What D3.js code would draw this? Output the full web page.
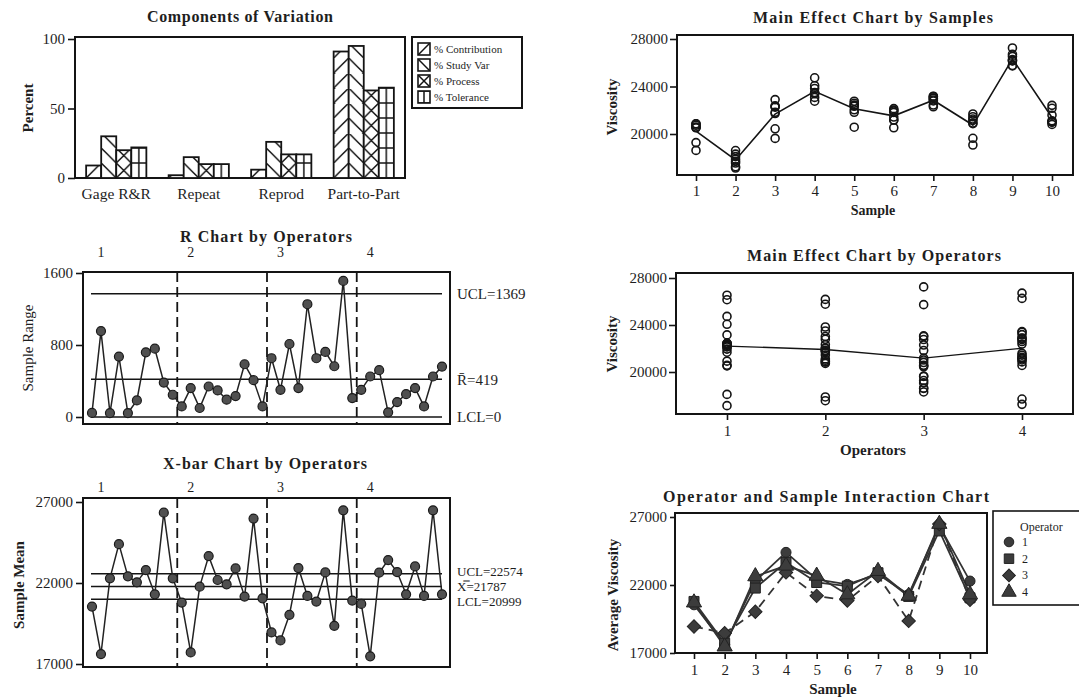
<!DOCTYPE html>
<html><head><meta charset="utf-8">
<script src="https://cdn.jsdelivr.net/npm/d3@7"></script>
<style>
body{margin:0;background:#fff;}
svg{display:block;}
text{font-family:"Liberation Serif","Times New Roman",serif;fill:#1e1e1e;}
</style>
</head><body>
<svg id="c" width="1079" height="697"></svg>
<script>
// ---------------- DATA ----------------
const components = ["Gage R&R", "Repeat", "Reprod", "Part-to-Part"];
const measures = ["% Contribution", "% Study Var", "% Process", "% Tolerance"];
const pctContribution = [9, 2, 6, 91];
const pctStudyVar = [30, 15, 26, 95];
const pctProcess = [20, 10, 17, 63];
const pctTolerance = [22, 10, 17, 65];
const percentTicks = [0, 50, 100];

const operators = [1, 2, 3, 4];
const samples = [1, 2, 3, 4, 5, 6, 7, 8, 9, 10];

// two trials per operator and sample (samples 1..10)
const trialsOp1 = [[20523,20568],[17138,18093],[22265,22309],[24062,24733],[22388,22432],[21949,22133],[22440,23159],[20924,21683],[26152,26535],[22164,22411]];
const trialsOp2 = [[20732,20850],[17557,17878],[21724,21824],[23490,23829],[22037,22332],[21822,22014],[22785,23017],[20867,21453],[25771,26180],[20998,21116]];
const trialsOp3 = [[18621,19274],[18304,18606],[19628,20439],[22762,23083],[20574,21827],[20526,21179],[22294,23017],[19074,19638],[25731,27243],[20809,21019]];
const trialsOp4 = [[20558,20860],[17246,17696],[22375,22895],[23387,23439],[22593,22759],[21176,21430],[22864,23185],[21141,21259],[26262,26712],[21023,21583]];

const rLimits = [1369, 419, 0];
const rLimitLabels = ["UCL=1369", "R\u0304=419", "LCL=0"];
const xbarLimits = [22574, 21787, 20999];
const xbarLimitLabels = ["UCL=22574", "X\u033F=21787", "LCL=20999"];
const rTicks = [0, 800, 1600];
const xbarTicks = [17000, 22000, 27000];
const viscTicks = [20000, 24000, 28000];
const interTicks = [17000, 22000, 27000];

// ---------------- SETUP ----------------
const SERIF = '"Liberation Serif","Times New Roman",serif';
const SANS = '"Liberation Sans",Arial,sans-serif';
const INK = "#141414";
const svg = d3.select("#c");
const defs = svg.append("defs");

function title(x0, x1, y, txt) {
  svg.append("text").attr("x", (x0 + x1) / 2).attr("y", y).attr("text-anchor", "middle")
    .attr("font-size", 16).attr("font-weight", "bold")
    .attr("textLength", x1 - x0).attr("lengthAdjust", "spacing").text(txt);
}
function frame(x0, y0, x1, y1) {
  svg.append("rect").attr("x", x0).attr("y", y0).attr("width", x1 - x0).attr("height", y1 - y0)
    .attr("fill", "none").attr("stroke", INK).attr("stroke-width", 2);
}
function yAxis(scale, x, ticks, size, pad) {
  const g = svg.append("g").attr("transform", `translate(${x},0)`)
    .call(d3.axisLeft(scale).tickValues(ticks).tickSize(size).tickPadding(pad).tickFormat(d3.format("d")));
  g.select(".domain").remove();
  g.attr("font-family", SERIF).attr("font-size", 15);
  g.selectAll("line").attr("stroke", INK).attr("stroke-width", 1.6);
  g.selectAll("text").attr("fill", "#1e1e1e");
  return g;
}
function xAxis(scale, y, size, pad) {
  const g = svg.append("g").attr("transform", `translate(0,${y})`)
    .call(d3.axisBottom(scale).tickSize(size).tickPadding(pad));
  g.select(".domain").remove();
  g.attr("font-family", SERIF).attr("font-size", 15);
  g.selectAll("line").attr("stroke", INK).attr("stroke-width", 1.6);
  g.selectAll("text").attr("fill", "#1e1e1e");
  return g;
}
function yTitle(x, y, txt, bold, size) {
  svg.append("text").attr("transform", `translate(${x},${y}) rotate(-90)`).attr("text-anchor", "middle")
    .attr("font-size", size || 15).attr("font-weight", bold ? "bold" : "normal").text(txt);
}
function xTitle(x, y, txt, size) {
  svg.append("text").attr("x", x).attr("y", y).attr("text-anchor", "middle")
    .attr("font-size", size || 15).attr("font-weight", "bold").text(txt);
}
function hatch(id, type, x0, y0, w, s) {
  const p = defs.append("pattern").attr("id", id).attr("patternUnits", "userSpaceOnUse")
    .attr("x", x0).attr("y", y0).attr("width", w).attr("height", s);
  p.append("rect").attr("width", w).attr("height", s).attr("fill", "#fff");
  const ln = (a, b, c, d) => p.append("line").attr("x1", a).attr("y1", b).attr("x2", c).attr("y2", d)
    .attr("stroke", INK).attr("stroke-width", 1.5);
  if (type === "fwd" || type === "cross") ln(0, s, w, 0);
  if (type === "back" || type === "cross") ln(0, 0, w, s);
  if (type === "grid") { ln(w / 2, 0, w / 2, s); ln(0, 0, w, 0); ln(0, s, w, s); }
}

// derived subgroups
const allTrials = [trialsOp1, trialsOp2, trialsOp3, trialsOp4];
const subgroups = [];
allTrials.forEach((arr, oi) => arr.forEach((t, si) => subgroups.push({
  op: operators[oi], sample: samples[si], idx: oi * 10 + si + 1,
  mean: d3.mean(t), range: d3.max(t) - d3.min(t), trials: t
})));

// ---------------- A: Components of Variation ----------------
title(147, 333, 22, "Components of Variation");
const xA = d3.scaleBand().domain(components).range([75, 405]).paddingInner(0.27).paddingOuter(0.135);
const xAi = d3.scaleBand().domain(measures).range([0, xA.bandwidth()]);
const yA = d3.scaleLinear().domain([0, 100]).range([178, 39]);
const compSeries = [pctContribution, pctStudyVar, pctProcess, pctTolerance];
const hatchTypes = ["fwd", "back", "cross", "grid"];
frame(75, 37, 405, 178);
yAxis(yA, 75, percentTicks, 7, 3);
yTitle(33, 108, "Percent", true, 15);
components.forEach((c, ci) => {
  measures.forEach((m, mi) => {
    const v = compSeries[mi][ci];
    const x = xA(c) + xAi(m), w = xAi.bandwidth();
    const id = `pA${ci}_${mi}`;
    hatch(id, hatchTypes[mi], x, yA(0), w, 15);
    svg.append("rect").attr("x", x).attr("y", yA(v)).attr("width", w).attr("height", yA(0) - yA(v))
      .attr("fill", `url(#${id})`).attr("stroke", INK).attr("stroke-width", 1.8);
  });
  svg.append("text").attr("x", xA(c) + xA.bandwidth() / 2).attr("y", 199).attr("text-anchor", "middle")
    .attr("font-size", 15.5).text(c);
});
// legend
svg.append("rect").attr("x", 412).attr("y", 37).attr("width", 110).attr("height", 71)
  .attr("fill", "#fff").attr("stroke", INK).attr("stroke-width", 2);
measures.forEach((m, mi) => {
  const cy = 49 + mi * 16;
  const id = `pL${mi}`;
  hatch(id, hatchTypes[mi], 418, cy - 6, 12, 12);
  svg.append("rect").attr("x", 418).attr("y", cy - 6).attr("width", 12).attr("height", 12)
    .attr("fill", `url(#${id})`).attr("stroke", INK).attr("stroke-width", 1.6);
  svg.append("text").attr("x", 434).attr("y", cy + 4).attr("font-size", 11).text(m);
});

// ---------------- B: R Chart ----------------
title(180, 352, 242, "R Chart by Operators");
const xB = d3.scaleLinear().domain([1, 40]).range([92, 442]);
const yB = d3.scaleLinear().domain([0, 1600]).range([417, 273]);
frame(83, 272, 450, 424);
yAxis(yB, 83, rTicks, 7, 3);
yTitle(33, 348, "Sample Range", false, 15);
function controlPanel(xs, ys, limits, labels, y0, y1, valueKey, labelY, fs, spread) {
  [1, 2, 3].forEach(g => {
    svg.append("line").attr("x1", xs(g * 10 + 0.5)).attr("x2", xs(g * 10 + 0.5)).attr("y1", y0).attr("y2", y1)
      .attr("stroke", INK).attr("stroke-width", 1.8).attr("stroke-dasharray", "10,5");
  });
  operators.forEach((o, oi) => {
    svg.append("text").attr("x", xs(oi * 10 + 2)).attr("y", labelY).attr("text-anchor", "middle")
      .attr("font-size", 14).text(o);
  });
  limits.forEach((v, i) => {
    svg.append("line").attr("x1", xs(1) - 1).attr("x2", xs(40)).attr("y1", ys(v)).attr("y2", ys(v))
      .attr("stroke", INK).attr("stroke-width", 1.6);
    svg.append("text").attr("x", 457).attr("y", ys(v) + (i - 1) * spread).attr("dy", "0.35em")
      .attr("font-size", fs).text(labels[i]);
  });
  svg.append("path").datum(subgroups)
    .attr("d", d3.line().x(d => xs(d.idx)).y(d => ys(d[valueKey])))
    .attr("fill", "none").attr("stroke", "#222").attr("stroke-width", 1.5);
  svg.selectAll(null).data(subgroups).enter().append("circle")
    .attr("cx", d => xs(d.idx)).attr("cy", d => ys(d[valueKey])).attr("r", 4.5)
    .attr("fill", "#505050").attr("stroke", "#1a1a1a").attr("stroke-width", 1.2);
}
controlPanel(xB, yB, rLimits, rLimitLabels, 272, 424, "range", 257, 15, 0);

// ---------------- C: X-bar Chart ----------------
title(163, 367, 469, "X-bar Chart by Operators");
const yC = d3.scaleLinear().domain([17000, 27000]).range([664, 502]);
frame(83, 498, 450, 667);
yAxis(yC, 83, xbarTicks, 7, 3);
yTitle(24, 585, "Sample Mean", true, 15);
controlPanel(xB, yC, xbarLimits, xbarLimitLabels, 498, 667, "mean", 492, 13, 2.5);

// ---------------- D: Main Effect by Samples ----------------
title(753, 993, 23, "Main Effect Chart by Samples");
const xD = d3.scalePoint().domain(samples).range([696, 1052]);
const yD = d3.scaleLinear().domain([20000, 28000]).range([134, 39]);
frame(677, 35, 1073, 175);
yAxis(yD, 677, viscTicks, 7, 2);
xAxis(xD, 175, 6, 4);
xTitle(873, 215, "Sample", 14);
yTitle(617, 107, "Viscosity", true, 15);
const sampleObs = samples.map((s, si) => ({ s, vals: allTrials.flatMap(arr => arr[si]) }));
svg.selectAll(null).data(sampleObs.flatMap(d => d.vals.map(v => ({ s: d.s, v })))).enter().append("circle")
  .attr("cx", d => xD(d.s)).attr("cy", d => yD(d.v)).attr("r", 4)
  .attr("fill", "none").attr("stroke", INK).attr("stroke-width", 1.6);
svg.append("path").datum(sampleObs)
  .attr("d", d3.line().x(d => xD(d.s)).y(d => yD(d3.mean(d.vals))))
  .attr("fill", "none").attr("stroke", INK).attr("stroke-width", 1.6);

// ---------------- E: Main Effect by Operators ----------------
title(747, 1001, 261, "Main Effect Chart by Operators");
const xE = d3.scalePoint().domain(operators).range([727, 1022]);
const yE = d3.scaleLinear().domain([20000, 28000]).range([372, 278]);
frame(676, 273, 1073, 414);
yAxis(yE, 676, viscTicks, 7, 2);
xAxis(xE, 414, 6, 5);
xTitle(873, 455, "Operators", 15);
yTitle(617, 344, "Viscosity", true, 15);
const opObs = operators.map((o, oi) => ({ o, vals: allTrials[oi].flat() }));
svg.selectAll(null).data(opObs.flatMap(d => d.vals.map(v => ({ o: d.o, v })))).enter().append("circle")
  .attr("cx", d => xE(d.o)).attr("cy", d => yE(d.v)).attr("r", 4)
  .attr("fill", "none").attr("stroke", INK).attr("stroke-width", 1.6);
svg.append("path").datum(opObs)
  .attr("d", d3.line().x(d => xE(d.o)).y(d => yE(d3.mean(d.vals))))
  .attr("fill", "none").attr("stroke", INK).attr("stroke-width", 1.4);

// ---------------- F: Interaction ----------------
title(663, 989, 502, "Operator and Sample Interaction Chart");
const xF = d3.scalePoint().domain(samples).range([694, 970]);
const yF = d3.scaleLinear().domain([17000, 27000]).range([653, 517]);
frame(675, 513, 987, 653);
yAxis(yF, 675, interTicks, 5, 3);
xAxis(xF, 653, 6, 5);
xTitle(833, 694, "Sample", 15);
yTitle(618, 595, "Average Viscosity", true, 15);
const symTypes = [d3.symbolCircle, d3.symbolSquare, d3.symbolSquare, d3.symbolTriangle];
const symSizes = [80, 100, 90, 100];
const symRot = [0, 0, 45, 0];
const dashes = [null, null, "9,6", null];
operators.forEach((o, oi) => {
  const data = subgroups.filter(d => d.op === o);
  svg.append("path").datum(data)
    .attr("d", d3.line().x(d => xF(d.sample)).y(d => yF(d.mean)))
    .attr("fill", "none").attr("stroke", "#333").attr("stroke-width", 1.8)
    .attr("stroke-dasharray", dashes[oi]);
});
operators.forEach((o, oi) => {
  const data = subgroups.filter(d => d.op === o);
  svg.selectAll(null).data(data).enter().append("path")
    .attr("d", d3.symbol().type(symTypes[oi]).size(symSizes[oi]))
    .attr("transform", d => `translate(${xF(d.sample)},${yF(d.mean)}) rotate(${symRot[oi]})`)
    .attr("fill", "#3c3c3c").attr("stroke", "#222").attr("stroke-width", 1);
});
svg.append("rect").attr("x", 993).attr("y", 511).attr("width", 100).attr("height", 94)
  .attr("fill", "#fff").attr("stroke", INK).attr("stroke-width", 1.6);
svg.append("text").attr("x", 1020).attr("y", 531).attr("font-family", SANS).attr("font-size", 12).text("Operator");
operators.forEach((o, oi) => {
  const cy = 542 + oi * 16.7;
  svg.append("path").attr("d", d3.symbol().type(symTypes[oi]).size(symSizes[oi] * 0.9))
    .attr("transform", `translate(1009,${cy}) rotate(${symRot[oi]})`)
    .attr("fill", "#3c3c3c").attr("stroke", "#222").attr("stroke-width", 1);
  svg.append("text").attr("x", 1022).attr("y", cy + 4).attr("font-family", SANS).attr("font-size", 12).text(o);
});
</script>
</body></html>
